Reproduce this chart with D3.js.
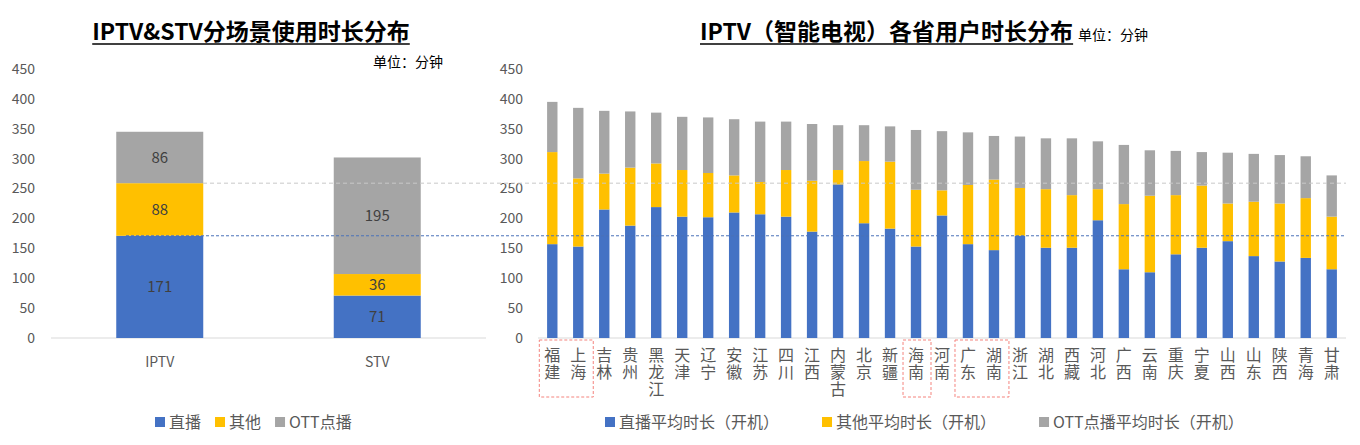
<!DOCTYPE html>
<html>
<head>
<meta charset="utf-8">
<script src="https://cdnjs.cloudflare.com/ajax/libs/d3/7.8.5/d3.min.js"></script>
<style>
    html, body { margin: 0; padding: 0; background: #fff; }
    svg text { font-family: "Noto Sans CJK SC", "Noto Sans", sans-serif; }
    .vlabel { writing-mode: vertical-rl; text-orientation: upright; letter-spacing: 1px; }
</style>
</head>
<body>
<svg id="chart" width="1360" height="445"></svg>
<script>
    'use strict';

    // left chart: scene totals
    var scenes = ['IPTV', 'STV'],
        sceneLive = [171, 71],
        sceneOther = [88, 36],
        sceneOtt = [86, 195];

    // right chart: per province
    var provinces = ['福建', '上海', '吉林', '贵州', '黑龙江', '天津', '辽宁', '安徽', '江苏', '四川',
            '江西', '内蒙古', '北京', '新疆', '海南', '河南', '广东', '湖南', '浙江', '湖北',
            '西藏', '河北', '广西', '云南', '重庆', '宁夏', '山西', '山东', '陕西', '青海', '甘肃'],
        provLive = [157, 153, 215, 188, 219, 203, 202, 210, 207, 203, 178, 257, 192, 183, 153, 205,
            157, 147, 171, 151, 151, 197, 115, 110, 140, 151, 162, 137, 128, 134, 115],
        provOther = [154, 114, 60, 97, 73, 78, 74, 62, 54, 78, 85, 24, 104, 112, 95, 42,
            99, 118, 80, 98, 88, 52, 109, 128, 99, 104, 63, 91, 97, 100, 88],
        provOtt = [84, 118, 105, 94, 85, 89, 93, 94, 101, 81, 95, 75, 60, 59, 100, 99,
            88, 73, 86, 85, 95, 80, 99, 76, 74, 56, 85, 80, 81, 70, 69];

    var yTicks = [0, 50, 100, 150, 200, 250, 300, 350, 400, 450],
        highlightGroups = [['福建', '上海'], ['海南'], ['广东', '湖南']],
        sceneLegend = ['直播', '其他', 'OTT点播'],
        provLegend = ['直播平均时长（开机）', '其他平均时长（开机）', 'OTT点播平均时长（开机）'];

    var keys = ['live', 'other', 'ott'],
        colors = { live: '#4472c4', other: '#ffc000', ott: '#a5a5a5' },
        textColor = '#595959';

    var svg = d3.select('#chart');

    var y = d3.scaleLinear().domain([0, 450]).range([338, 69]);

    var stack = d3.stack().keys(keys);

    function rows(cats, a, b, c) {
        return cats.map(function (cat, i) {
            return { cat: cat, live: a[i], other: b[i], ott: c[i] };
        });
    }

    function drawYAxis(xRight) {
        svg.append('g')
            .selectAll('text')
            .data(yTicks)
            .enter()
            .append('text')
            .attr('x', xRight)
            .attr('y', function (d) { return y(d); })
            .attr('dy', '0.35em')
            .attr('text-anchor', 'end')
            .attr('font-size', 14)
            .attr('fill', textColor)
            .text(function (d) { return d; });
    }

    function drawStack(x, data) {
        var series = stack(data);
        svg.append('g')
            .selectAll('g')
            .data(series)
            .enter()
            .append('g')
            .attr('fill', function (s) { return colors[s.key]; })
            .selectAll('rect')
            .data(function (s) { return s; })
            .enter()
            .append('rect')
            .attr('x', function (d) { return x(d.data.cat); })
            .attr('width', x.bandwidth())
            .attr('y', function (d) { return y(d[1]); })
            .attr('height', function (d) { return y(d[0]) - y(d[1]); });
        return series;
    }

    function drawTitle(text, x, anchor, baseline) {
        var t = svg.append('text')
            .attr('x', x)
            .attr('y', baseline)
            .attr('text-anchor', anchor)
            .attr('font-size', 23)
            .attr('font-weight', 'bold')
            .attr('fill', '#000')
            .text(text);
        var box = t.node().getBBox();
        svg.append('line')
            .attr('x1', box.x)
            .attr('x2', box.x + box.width)
            .attr('y1', baseline + 4)
            .attr('y2', baseline + 4)
            .attr('stroke', '#000')
            .attr('stroke-width', 1.5);
        return box;
    }

    function drawLegend(labels, startX, baseline, gap) {
        var cx = startX;
        labels.forEach(function (label, i) {
            svg.append('rect')
                .attr('x', cx)
                .attr('y', baseline - 11)
                .attr('width', 10)
                .attr('height', 10)
                .attr('fill', colors[keys[i]]);
            var t = svg.append('text')
                .attr('x', cx + 14)
                .attr('y', baseline)
                .attr('font-size', 16)
                .attr('fill', textColor)
                .text(label);
            cx += 14 + t.node().getComputedTextLength() + gap;
        });
    }

    // ---- left chart ----
    var xScene = d3.scaleBand()
        .domain(scenes)
        .range([51, 486])
        .paddingInner(0.6)
        .paddingOuter(0.3);

    drawYAxis(35);

    svg.append('line')
        .attr('x1', 51).attr('x2', 486)
        .attr('y1', y(0)).attr('y2', y(0))
        .attr('stroke', '#d9d9d9');

    var sceneSeries = drawStack(xScene, rows(scenes, sceneLive, sceneOther, sceneOtt));

    sceneSeries.forEach(function (s) {
        svg.append('g')
            .selectAll('text')
            .data(s)
            .enter()
            .append('text')
            .attr('x', function (d) { return xScene(d.data.cat) + xScene.bandwidth() / 2; })
            .attr('y', function (d) { return (y(d[0]) + y(d[1])) / 2; })
            .attr('dy', '0.35em')
            .attr('text-anchor', 'middle')
            .attr('font-size', 15)
            .attr('fill', '#404040')
            .text(function (d) { return d.data[s.key]; });
    });

    svg.append('g')
        .selectAll('text')
        .data(scenes)
        .enter()
        .append('text')
        .attr('x', function (d) { return xScene(d) + xScene.bandwidth() / 2; })
        .attr('y', 367)
        .attr('text-anchor', 'middle')
        .attr('font-size', 14)
        .attr('fill', textColor)
        .text(function (d) { return d; });

    drawTitle('IPTV&STV分场景使用时长分布', 251, 'middle', 40);
    svg.append('text')
        .attr('x', 373)
        .attr('y', 67)
        .attr('font-size', 14)
        .attr('fill', '#000')
        .text('单位：分钟');

    drawLegend(sceneLegend, 155, 428, 14);

    // ---- right chart ----
    var xProv = d3.scaleBand()
        .domain(provinces)
        .range([538, 1346])
        .paddingInner(0.6)
        .paddingOuter(0.35);

    drawYAxis(523);

    svg.append('line')
        .attr('x1', 538).attr('x2', 1346)
        .attr('y1', y(0)).attr('y2', y(0))
        .attr('stroke', '#d9d9d9');

    drawStack(xProv, rows(provinces, provLive, provOther, provOtt));

    // vertical province names
    svg.append('g')
        .selectAll('text')
        .data(provinces)
        .enter()
        .append('text')
        .attr('class', 'vlabel')
        .attr('x', function (d) { return xProv(d) + xProv.bandwidth() / 2; })
        .attr('y', 347)
        .attr('font-size', 16)
        .attr('fill', textColor)
        .text(function (d) { return d; });

    // red dashed boxes round highlighted provinces
    var step = xProv.step();
    svg.append('g')
        .selectAll('rect')
        .data(highlightGroups)
        .enter()
        .append('rect')
        .attr('x', function (g) { return xProv(g[0]) + xProv.bandwidth() / 2 - step / 2; })
        .attr('y', 340)
        .attr('width', function (g) {
            return xProv(g[g.length - 1]) - xProv(g[0]) + step + 2;
        })
        .attr('height', 57)
        .attr('fill', 'none')
        .attr('stroke', '#f4837d')
        .attr('stroke-dasharray', '3,2');

    drawTitle('IPTV（智能电视）各省用户时长分布', 700, 'start', 40);
    svg.append('text')
        .attr('x', 1078)
        .attr('y', 40)
        .attr('font-size', 14)
        .attr('fill', '#000')
        .text('单位：分钟');

    drawLegend(provLegend, 605, 428, 43);

    // reference lines: IPTV live mean and live+other
    svg.append('line')
        .attr('x1', 203).attr('x2', 1346)
        .attr('y1', y(sceneLive[0] + sceneOther[0]))
        .attr('y2', y(sceneLive[0] + sceneOther[0]))
        .attr('stroke', '#c8c8c8')
        .attr('stroke-dasharray', '4,3');

    svg.append('line')
        .attr('x1', 126).attr('x2', 1346)
        .attr('y1', y(sceneLive[0]))
        .attr('y2', y(sceneLive[0]))
        .attr('stroke', '#4a72b8')
        .attr('stroke-dasharray', '3,2');
</script>
</body>
</html>
